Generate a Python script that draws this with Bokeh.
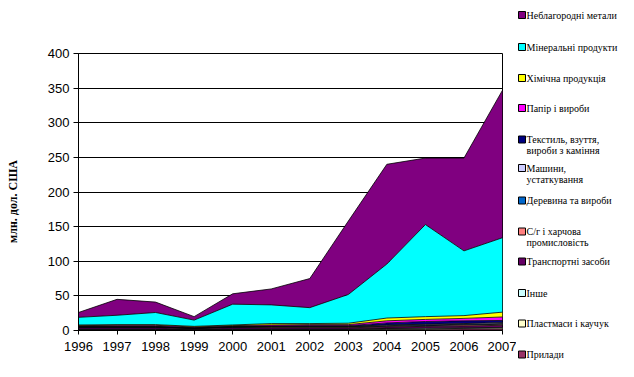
import numpy as np
from bokeh.plotting import figure
from bokeh.layouts import row
from bokeh.models import Range1d, FixedTicker
from bokeh.core.properties import value
from bokeh.embed import file_html
from bokeh.resources import INLINE

# ---------------- data ----------------
years = [1996, 1997, 1998, 1999, 2000, 2001, 2002, 2003, 2004, 2005, 2006, 2007]
year_labels = [str(y) for y in years]
y_ticks = [0, 50, 100, 150, 200, 250, 300, 350, 400]

# series, listed from the bottom of the stack to the top (млн. дол. США)
prylady      = [1.0, 1.0, 1.0, 0.5, 1.0, 1.0, 1.0, 1.0, 1.5, 1.5, 2.0, 2.0]
plastmasy    = [0.5, 0.5, 0.5, 0.3, 0.5, 0.5, 0.5, 0.5, 1.0, 1.0, 1.0, 1.5]
inshe        = [0.5, 0.5, 0.5, 0.3, 0.5, 0.5, 0.5, 0.5, 0.5, 1.0, 1.0, 1.0]
transport    = [2.0, 2.0, 2.0, 1.5, 2.0, 2.0, 2.0, 2.0, 2.0, 2.5, 2.5, 3.0]
sg_harchova  = [0.5, 0.5, 0.5, 0.3, 0.5, 1.0, 1.0, 1.0, 1.0, 1.0, 1.5, 1.5]
derevyna     = [0.5, 0.5, 0.5, 0.3, 0.5, 0.5, 0.5, 0.5, 1.0, 1.0, 1.0, 1.0]
mashyny      = [0.5, 0.5, 0.5, 0.3, 0.5, 0.5, 0.5, 0.5, 1.0, 1.0, 1.0, 1.5]
tekstyl      = [0.5, 0.5, 0.5, 0.5, 0.5, 0.5, 1.0, 1.0, 3.0, 4.0, 4.0, 3.0]
papir        = [1.0, 1.5, 1.5, 1.0, 1.0, 1.5, 1.5, 1.5, 3.0, 3.0, 3.5, 5.0]
khimichna    = [1.0, 1.0, 1.0, 1.0, 1.0, 2.0, 1.5, 2.0, 4.0, 4.0, 4.0, 7.0]
mineralni    = [11.0, 13.5, 17.5, 9.0, 30.0, 27.0, 23.0, 41.5, 78.0, 133.0, 93.5, 107.5]
neblagorodni = [7.0, 23.0, 15.0, 5.0, 15.0, 23.0, 42.0, 106.0, 144.0, 96.0, 134.0, 213.0]

series_bottom_up = [prylady, plastmasy, inshe, transport, sg_harchova, derevyna,
                    mashyny, tekstyl, papir, khimichna, mineralni, neblagorodni]
labels_bottom_up = ["Прилади", "Пластмаси і каучук", "Інше", "Транспортні засоби",
                    "С/г і харчова\nпромисловість", "Деревина та вироби",
                    "Машини,\nустаткування", "Текстиль, взуття,\nвироби з каміння",
                    "Папір і вироби", "Хімічна продукція", "Мінеральні продукти",
                    "Неблагородні метали"]
colors_bottom_up = ["#993366", "#FFFFCC", "#CCFFFF", "#660066", "#FF8080", "#0066CC",
                    "#CCCCFF", "#000080", "#FF00FF", "#FFFF00", "#00FFFF", "#800080"]
y_title = "млн. дол. США"


def blank_panel(width, x0):
    f = figure(width=width, height=377, output_backend="svg", toolbar_location=None,
               x_range=Range1d(x0, x0 + width), y_range=Range1d(377, 0),
               x_axis_location=None, y_axis_location=None,
               min_border=0, min_border_left=0, min_border_right=0,
               min_border_top=0, min_border_bottom=0)
    f.frame_align = False
    f.outline_line_color = None
    f.grid.visible = False
    f.background_fill_color = "white"
    f.border_fill_color = "white"
    return f


# ---------------- y-axis title panel ----------------
TITLE_W = 30
tp = blank_panel(TITLE_W, 0)
tp.text(x=[12], y=[201], text=[y_title], angle=np.pi / 2, text_align="center",
        text_baseline="middle", text_font=value("Liberation Serif"),
        text_font_style="bold", text_font_size="12px", text_color="black")

# ---------------- main chart ----------------
p = figure(width=516 - TITLE_W, height=377, output_backend="svg", toolbar_location=None,
           x_range=Range1d(1996, 2007), y_range=Range1d(0, 400),
           min_border_left=78 - TITLE_W, min_border_right=14,
           min_border_top=53, min_border_bottom=47)
p.frame_align = False
p.background_fill_color = "white"
p.border_fill_color = "white"
p.outline_line_color = "black"
p.outline_line_width = 1

lower = np.zeros(len(years))
for vals, col in zip(series_bottom_up, colors_bottom_up):
    upper = lower + np.array(vals, dtype=float)
    p.varea(x=years, y1=lower, y2=upper, fill_color=col, fill_alpha=1.0)
    lower = upper
lower = np.zeros(len(years))
for vals in series_bottom_up:
    upper = lower + np.array(vals, dtype=float)
    p.line(x=years, y=upper, line_color="black", line_width=0.8)
    lower = upper

p.xgrid.visible = False
p.ygrid.ticker = FixedTicker(ticks=y_ticks)
p.ygrid.grid_line_color = "black"
p.ygrid.grid_line_width = 1

p.xaxis.ticker = FixedTicker(ticks=years)
p.xaxis.major_label_overrides = {y: l for y, l in zip(years, year_labels)}
p.yaxis.ticker = FixedTicker(ticks=y_ticks)
for ax in (p.xaxis[0], p.yaxis[0]):
    ax.axis_line_color = "black"
    ax.major_tick_line_color = "black"
    ax.minor_tick_line_color = None
    ax.major_tick_in = 0
    ax.major_label_text_color = "black"
    ax.major_label_text_font = "Liberation Sans Narrow, Liberation Sans, sans-serif"
    ax.major_label_text_font_size = "13px"
p.xaxis.major_tick_out = 4
p.xaxis.major_label_standoff = 7
p.yaxis.major_tick_out = 5
p.yaxis.major_label_standoff = 4
p.yaxis.major_label_text_font = "Liberation Sans"
p.yaxis.major_label_text_font_size = "13px"

# ---------------- legend panel ----------------
leg = blank_panel(118, 516)

legend_labels = labels_bottom_up[::-1]
legend_colors = colors_bottom_up[::-1]
row_y = [14.5, 46.5, 77.5, 107.5, 139, 167.5, 200, 231, 261, 292.5, 323, 354]
line_gap = 11
sq_x, txt_x = 521.5, 526

tx, ty, tt = [], [], []
for lab, yy in zip(legend_labels, row_y):
    for k, part in enumerate(lab.split("\n")):
        tx.append(txt_x)
        ty.append(yy + k * line_gap)
        tt.append(part)

leg.scatter(x=[sq_x] * len(row_y), y=row_y, marker="square", size=7,
            fill_color=legend_colors, line_color="black", line_width=1)
leg.text(x=tx, y=ty, text=tt, text_baseline="middle", text_align="left",
         text_font=value("Liberation Serif"), text_font_size="10px", text_color="black")

layout = row(tp, p, leg)
open("out.html", "w").write(file_html(layout, INLINE))
